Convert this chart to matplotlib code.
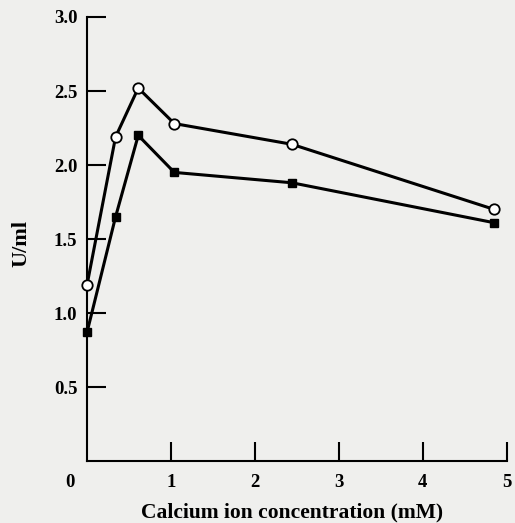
#!/usr/bin/env python
'''
	calcium dependence of enzyme activity (U/ml)
'''

import matplotlib
matplotlib.use('Agg')
import matplotlib.pyplot as plt

params = {'font.family': 'Liberation Serif',
          'font.weight': 'bold',
          'axes.linewidth': 1.5,
          'xtick.major.width': 1.5, 'ytick.major.width': 1.5,
         }
plt.rcParams.update(params)

# data
calcium = [0.0, 0.34, 0.61, 1.04, 2.44, 4.85]
open_series = [1.19, 2.19, 2.52, 2.28, 2.14, 1.70]
filled_series = [0.87, 1.65, 2.20, 1.95, 1.88, 1.61]

xticks = [1, 2, 3, 4, 5]
yticks = [0.5, 1.0, 1.5, 2.0, 2.5, 3.0]

bg = '#efefed'
fig = plt.figure(figsize=(5.15, 5.23), dpi=100, facecolor=bg)
ax = fig.add_axes([0.169, 0.1185, 0.815, 0.849])
ax.set_facecolor(bg)

ax.plot(calcium, open_series, '-o', color='black', lw=2.2,
	markersize=7.5, markerfacecolor='white', markeredgewidth=1.3,
	clip_on=False, zorder=3)
ax.plot(calcium, filled_series, '-s', color='black', lw=2.2,
	markersize=6, markerfacecolor='black', clip_on=False, zorder=3)

ax.set_xlim(0, 5)
ax.set_ylim(0, 3.0)
ax.spines['top'].set_visible(False)
ax.spines['right'].set_visible(False)

ax.set_xticks(xticks)
ax.set_yticks(yticks)
ax.set_xticklabels([str(t) for t in xticks])
ax.set_yticklabels(['%.1f' % t for t in yticks])
ax.tick_params(direction='in', length=14, labelsize=13.5)
ax.tick_params(axis='x', pad=9)
ax.tick_params(axis='y', pad=7)

# corner label for zero sits left of the axis
ax.annotate('0', xy=(0, 0), xytext=(-12, -9.5), textcoords='offset points',
	ha='center', va='top', fontsize=13.5, fontweight='bold')

ax.set_xlabel('Calcium ion concentration (mM)', fontsize=15.5,
	fontweight='bold')
ax.xaxis.set_label_coords(0.488, -0.093)
ax.set_ylabel('U/ml', fontsize=16, fontweight='bold')
ax.yaxis.set_label_coords(-0.133, 0.49)

fig.savefig('out.png', dpi=100, facecolor=bg)
